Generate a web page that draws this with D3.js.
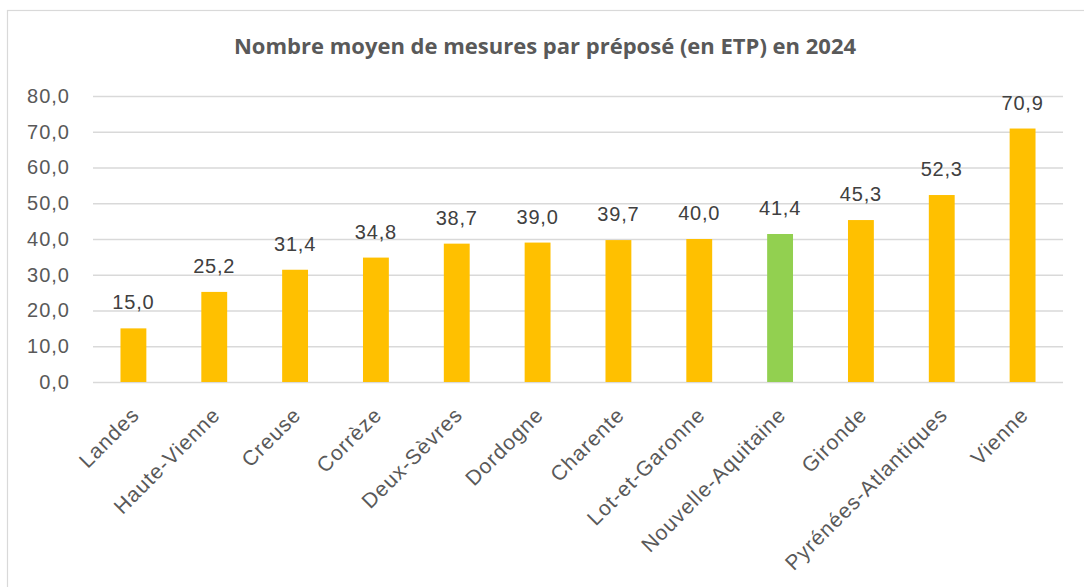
<!DOCTYPE html>
<html>
<head>
<meta charset="utf-8">
<script src="https://cdn.jsdelivr.net/npm/d3@7"></script>
<style>
  html, body { margin: 0; padding: 0; background: #fff; }
  svg { display: block; }
</style>
</head>
<body>
<svg id="chart"></svg>
<script>
const width = 1084;
const height = 587;

// Données
const departements = [
  "Landes", "Haute-Vienne", "Creuse", "Corrèze", "Deux-Sèvres", "Dordogne",
  "Charente", "Lot-et-Garonne", "Nouvelle-Aquitaine", "Gironde",
  "Pyrénées-Atlantiques", "Vienne"
];
const mesures = [15.0, 25.2, 31.4, 34.8, 38.7, 39.0, 39.7, 40.0, 41.4, 45.3, 52.3, 70.9];
const yTicks = [0, 10, 20, 30, 40, 50, 60, 70, 80];
const titre = "Nombre moyen de mesures par préposé (en ETP) en 2024";

const fmt = v => v.toFixed(1).replace(".", ",");

const svg = d3.select("#chart")
  .attr("width", width)
  .attr("height", height);

// Cadre du graphique
svg.append("rect")
  .attr("x", 7.5).attr("y", 10.5)
  .attr("width", 1200).attr("height", 700)
  .attr("fill", "#fff")
  .attr("stroke", "#d9d9d9")
  .attr("stroke-width", 1.2);

const margin = { left: 93, right: 21, top: 96, bottom: 205 };

const x = d3.scaleBand()
  .domain(departements)
  .range([margin.left, width - margin.right])
  .paddingInner(0.68)
  .paddingOuter(0.34);

const y = d3.scaleLinear()
  .domain([0, 80])
  .range([height - margin.bottom, margin.top]);

// Titre
svg.append("text")
  .attr("x", 545)
  .attr("y", 54)
  .attr("text-anchor", "middle")
  .attr("font-family", "Open Sans")
  .attr("font-weight", "bold")
  .attr("font-size", 22)
  .attr("fill", "#595959")
  .text(titre);

// Grille + axe Y
const yAxis = svg.append("g")
  .attr("transform", `translate(${margin.left},0)`)
  .call(d3.axisLeft(y)
    .tickValues(yTicks)
    .tickSize(-(width - margin.right - margin.left))
    .tickPadding(23)
    .tickFormat(fmt));

yAxis.select(".domain").remove();
yAxis.selectAll(".tick line")
  .attr("stroke", "#d9d9d9")
  .attr("stroke-width", 1.5);
yAxis.selectAll(".tick text")
  .attr("font-family", "Liberation Sans")
  .attr("font-size", 20)
  .attr("letter-spacing", 1)
  .attr("fill", "#595959");

// Barres
svg.append("g")
  .selectAll("rect")
  .data(departements)
  .join("rect")
  .attr("x", d => x(d))
  .attr("width", x.bandwidth())
  .attr("y", (d, i) => y(mesures[i]))
  .attr("height", (d, i) => y(0) - y(mesures[i]))
  .attr("fill", d => d === "Nouvelle-Aquitaine" ? "#92d050" : "#ffc000");

// Étiquettes de valeurs
svg.append("g")
  .selectAll("text")
  .data(departements)
  .join("text")
  .attr("x", d => x(d) + x.bandwidth() / 2)
  .attr("y", (d, i) => y(mesures[i]) - 19)
  .attr("text-anchor", "middle")
  .attr("font-family", "Liberation Sans")
  .attr("font-size", 20)
  .attr("letter-spacing", 0.8)
  .attr("fill", "#404040")
  .text((d, i) => fmt(mesures[i]));

// Axe X (étiquettes inclinées)
svg.append("g")
  .selectAll("text")
  .data(departements)
  .join("text")
  .attr("transform", d => `translate(${x(d) + x.bandwidth() / 2 + 2},${y(0) + 29}) rotate(-45)`)
  .attr("text-anchor", "end")
  .attr("dy", "0.35em")
  .attr("font-family", "Liberation Sans")
  .attr("font-size", 21)
  .attr("letter-spacing", 1)
  .attr("fill", "#595959")
  .text(d => d);
</script>
</body>
</html>
